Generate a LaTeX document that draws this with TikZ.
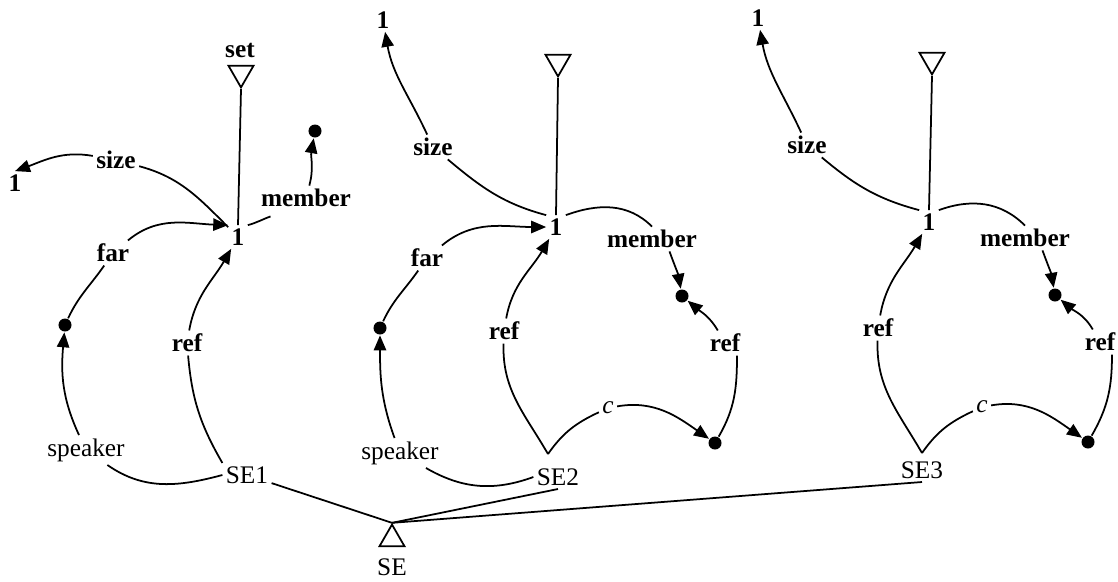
\documentclass[tikz,border=0pt]{standalone}
\usepackage{fontspec}
\setmainfont{Liberation Serif}
\usetikzlibrary{shapes.geometric,arrows.meta}

\begin{document}
\begin{tikzpicture}[x=2mm,y=2mm,line width=1pt,
    every node/.style={font=\fontsize{14.4}{17}\selectfont, inner sep=1.5pt},
    lbl/.style={font=\fontsize{14.4}{17}\selectfont\bfseries},
    dot/.style={circle, fill=black, minimum size=7.4pt, inner sep=0pt},
    tridown/.style={regular polygon, regular polygon sides=3, shape border rotate=180, draw, minimum size=16.4pt, inner sep=0pt},
    triup/.style={regular polygon, regular polygon sides=3, draw, minimum size=16.4pt, inner sep=0pt},
    arr/.style={-{Triangle[length=8.5pt,width=7pt]}}]
    \useasboundingbox (0,0) rectangle (111.8,58.1);

    % SE1
    \node[lbl] (set1) at (24.0,53.1) {set};
    \node[tridown] (tri1) at (24.1,50.8) {};
    \node[lbl] (one1) at (23.8,34.4) {1};
    \node[lbl] (size1) at (11.6,42.1) {size};
    \node[lbl] (sizeval1) at (1.5,39.8) {1};
    \node[lbl] (member1) at (30.6,38.3) {member};
    \node[dot] (mdot1) at (31.5,45.0) {};
    \node[lbl] (far1) at (11.3,32.8) {far};
    \node[dot] (fdot1) at (6.5,25.6) {};
    \node (spk1) at (8.6,13.1) {speaker};
    \node[lbl] (ref1) at (18.7,23.8) {ref};
    \node (se1) at (24.7,10.6) {SE1};

    % SE2
    \node[lbl] (sizeval2) at (38.3,56.1) {1};
    \node[lbl] (size2) at (43.3,43.4) {size};
    \node[tridown] (tri2) at (55.8,51.9) {};
    \node[lbl] (one2) at (55.6,35.4) {1};
    \node[lbl] (member2) at (65.2,34.2) {member};
    \node[dot] (mdot2) at (68.2,28.5) {};
    \node[lbl] (far2) at (42.7,32.3) {far};
    \node[dot] (fdot2) at (38.0,25.3) {};
    \node[lbl] (ref2) at (50.4,25.0) {ref};
    \node (spk2) at (40.0,12.8) {speaker};
    \node (se2) at (55.8,10.4) {SE2};
    \node (c2) at (60.8,17.3) {\itshape c};
    \node[dot] (bdot2) at (71.5,13.8) {};
    \node[lbl] (rref2) at (72.5,23.8) {ref};

    % SE3
    \node[lbl] (sizeval3) at (75.8,56.3) {1};
    \node[lbl] (size3) at (80.7,43.6) {size};
    \node[tridown] (tri3) at (93.2,52.1) {};
    \node[lbl] (one3) at (92.9,35.9) {1};
    \node[lbl] (member3) at (102.5,34.3) {member};
    \node[dot] (mdot3) at (105.5,28.6) {};
    \node[lbl] (ref3) at (87.8,25.3) {ref};
    \node (se3) at (92.2,11.1) {SE3};
    \node (c3) at (98.2,17.4) {\itshape c};
    \node[dot] (bdot3) at (108.8,13.9) {};
    \node[lbl] (rref3) at (110.0,23.9) {ref};

    % SE
    \node[triup] (se) at (39.2,4.2) {};
    \node (selbl) at (39.2,1.4) {SE};

    \coordinate (cusp2) at ([xshift=-2mm,yshift=4.6mm]se2.center);
    \coordinate (cusp3) at ([yshift=3.4mm]se3.center);

    \begin{scope}[every edge/.style={draw}]
        \path (tri1.corner 1) edge (one1.north);
        \path (one1) edge[out=135,in=-15] (size1);
        \path (size1) edge[arr,out=170,in=20] (sizeval1.north);
        \path (one1.north east) edge[out=15,in=200] ([xshift=2.6mm,yshift=-1.2mm]member1.south west);
        \path (member1) edge[arr,out=75,in=-100] (mdot1);
        \path (fdot1) edge[out=65,in=-125] (far1);
        \path (far1) edge[arr,out=40,in=178] (one1.north west);
        \path (spk1) edge[arr,out=115,in=-95] (fdot1);
        \path (se1.north west) edge[out=120,in=-85] (ref1);
        \path (ref1) edge[arr,out=80,in=-120] (one1);
        \path (spk1) edge[out=-35,in=195] (se1.west);
        \path (se1) edge (se.corner 1);

        \path (size2) edge[arr,out=115,in=-80] (sizeval2);
        \path (one2.north west) edge[out=165,in=-40] (size2);
        \path (tri2.corner 1) edge (one2.north);
        \path (one2.north east) edge[out=20,in=135] (member2.north);
        \path ([xshift=3.5mm]member2.south) edge[arr,out=-70,in=100] (mdot2);
        \path (fdot2) edge[out=65,in=-125] (far2);
        \path (far2) edge[arr,out=40,in=180] (one2.west);
        \path (ref2) edge[arr,out=80,in=-120] (one2);
        \path (cusp2) edge[out=120,in=-92] (ref2);
        \path (spk2) edge[arr,out=110,in=-90] (fdot2);
        \path (spk2) edge[out=-30,in=200] (se2.west);
        \path (cusp2) edge[out=55,in=205] (c2);
        \path (c2) edge[arr,out=10,in=145] (bdot2);
        \path (bdot2) edge[out=60,in=-90] ([xshift=2.4mm]rref2.south);
        \path (rref2) edge[arr,out=120,in=-40] (mdot2);
        \path (se2.south) edge (se.corner 1);

        \path (size3) edge[arr,out=115,in=-80] (sizeval3);
        \path (one3.north west) edge[out=165,in=-40] (size3);
        \path (tri3.corner 1) edge (one3.north);
        \path (one3.north east) edge[out=20,in=135] (member3.north);
        \path ([xshift=3.5mm]member3.south) edge[arr,out=-70,in=100] (mdot3);
        \path (ref3) edge[arr,out=80,in=-120] (one3);
        \path (cusp3) edge[out=120,in=-92] (ref3);
        \path (cusp3) edge[out=55,in=205] (c3);
        \path (c3) edge[arr,out=10,in=145] (bdot3);
        \path (bdot3) edge[out=60,in=-90] ([xshift=2.4mm]rref3.south);
        \path (rref3) edge[arr,out=120,in=-40] (mdot3);
        \path (se3.south) edge (se.corner 1);
    \end{scope}
\end{tikzpicture}
\end{document}
